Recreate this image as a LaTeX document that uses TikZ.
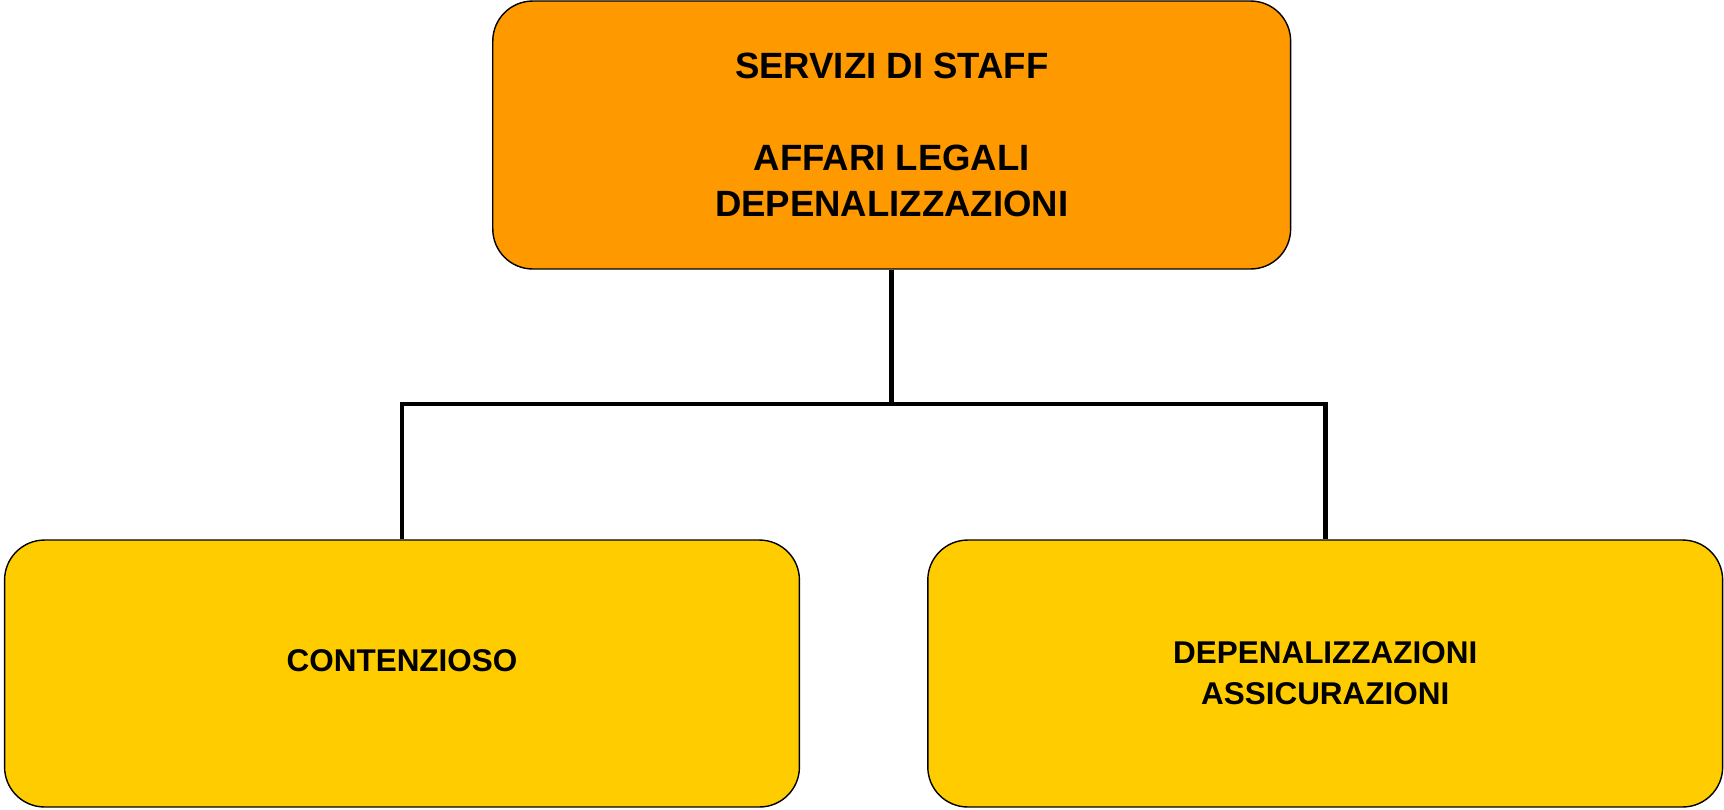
\documentclass[tikz,border=0pt]{standalone}
\usepackage{fontspec}
\setmainfont{Liberation Sans}
\usetikzlibrary{positioning}
\definecolor{stafforange}{RGB}{255,153,0}
\definecolor{leafyellow}{RGB}{255,204,0}
\begin{document}
\begin{tikzpicture}[x=0.02cm,y=-0.02cm,
	round/.style={rounded corners=0.8cm,draw,line width=0.8pt,inner sep=0pt,align=center},
	topbox/.style={round,fill=stafforange,minimum width=15.96cm,minimum height=5.36cm,font=\fontsize{20.8}{26.2}\selectfont\bfseries},
	leafbox/.style={round,fill=leafyellow,minimum width=15.9cm,minimum height=5.34cm,font=\fontsize{17.9}{23.3}\selectfont\bfseries},
	link/.style={line width=2.8pt}]

	\useasboundingbox (0,0) rectangle (1724,809);

	\node[topbox] (staff) at (891.7,135) {SERVIZI DI STAFF\\[26.2pt]AFFARI LEGALI\\DEPENALIZZAZIONI};
	\node[leafbox,text depth=0.52cm] (cont) at (402,673.5) {CONTENZIOSO};
	\node[leafbox] (depen) [right=2.54cm of cont] {DEPENALIZZAZIONI\\ASSICURAZIONI};

	\coordinate (busy) at (0,404);
	\coordinate (bus) at (staff.south |- busy);
	\draw[link] (staff.south) -- (bus);
	\draw[link] (bus) -| (cont.north);
	\draw[link] (bus) -| (depen.north);

\end{tikzpicture}
\end{document}
